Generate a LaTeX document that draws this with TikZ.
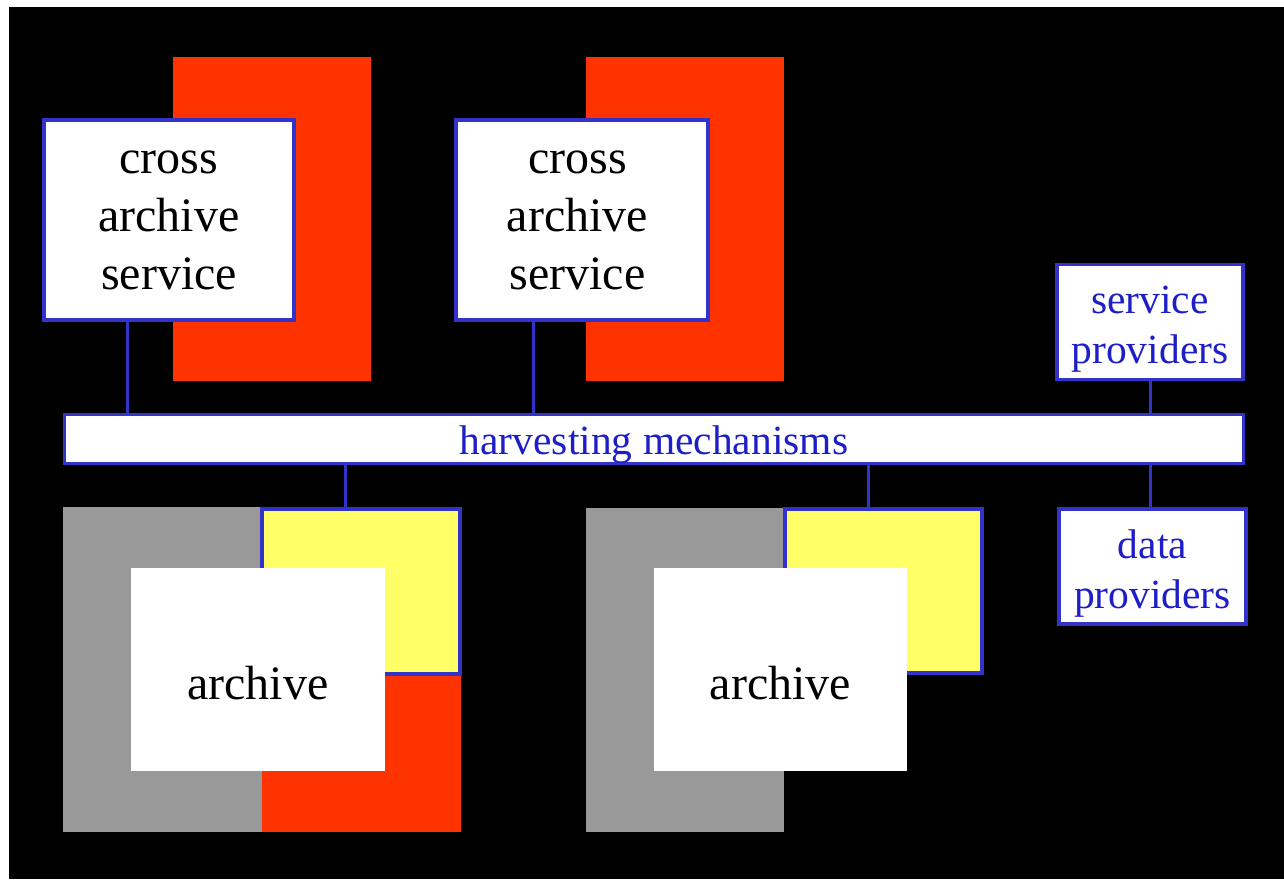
\documentclass[tikz,border=0pt]{standalone}
\usepackage{fontspec}
\setmainfont{Liberation Serif}
\definecolor{bblue}{RGB}{51,51,204}
\definecolor{tblue}{RGB}{30,30,200}
\definecolor{hred}{RGB}{255,51,0}
\definecolor{hyellow}{RGB}{255,255,102}
\definecolor{hgray}{RGB}{153,153,153}
\tikzset{
  whitebox/.style={draw=bblue, line width=3.5pt, fill=white, inner sep=0pt, align=center},
  bigtext/.style={font=\fontsize{48}{58}\selectfont, text=black},
  bluetext/.style={font=\fontsize{41.5}{50}\selectfont, text=tblue},
  conn/.style={draw=bblue, line width=3pt},
  plain/.style={inner sep=0pt, draw=none},
  yellowbox/.style={draw=bblue, line width=3.5pt, fill=hyellow, inner sep=0pt},
}
\begin{document}
\begin{tikzpicture}[x=1pt,y=-1pt]
\useasboundingbox (0,0) rectangle (1284,879);
\fill[white] (0,0) rectangle (1284,879);
\fill[black] (9,7) rectangle (1284,879);

% top red backdrops
\node[plain, fill=hred, minimum width=198, minimum height=324] (r1) at (272,219) {};
\node[plain, fill=hred, minimum width=198, minimum height=324] (r2) at (685,219) {};

% bottom backdrops
\node[plain, fill=hgray, minimum width=199, minimum height=325] (g1) at (162.5,669.5) {};
\node[plain, fill=hred, minimum width=199, minimum height=325] (rb1) at (361.5,669.5) {};
\node[plain, fill=hgray, minimum width=198, minimum height=324] (g2) at (685,670) {};

% yellow boxes
\node[yellowbox, minimum width=198, minimum height=165] (y1) at (361,591.5) {};
\node[yellowbox, minimum width=197, minimum height=164] (y2) at (883.5,591) {};

% archive boxes
\node[plain, fill=white, minimum width=254, minimum height=203, bigtext] (a1) at (258,669.5) {\rule{0pt}{60pt}archive};
\node[plain, fill=white, minimum width=253, minimum height=203, bigtext] (a2) at (780.5,669.5) {\rule{0pt}{60pt}archive};

% cross archive services
\node[whitebox, bigtext, minimum width=250, minimum height=200] (c1) at (169,220) {cross\\archive\\service};
\node[whitebox, bigtext, minimum width=252, minimum height=200] (c2) at (582,220) {cross\kern9pt\\archive\kern9pt\\service\kern9pt};

% harvesting bar
\node[whitebox, bluetext, minimum width=1179, minimum height=49] (bar) at (654,439) {\rule{0pt}{40pt}harvesting mechanisms};

% providers
\node[whitebox, bluetext, minimum width=186, minimum height=115] (sp) at (1150,322) {\rule{0pt}{41pt}service\\providers};
\node[whitebox, bluetext, minimum width=187, minimum height=115] (dp) at (1152.5,566.5) {\rule{0pt}{43pt}data\\providers};

% connector x positions
\coordinate (k1) at (127,0);
\coordinate (k2) at (533,0);
\coordinate (k3) at (345,0);
\coordinate (k4) at (868,0);
\coordinate (k5) at (1150,0);

\draw[conn] (k1 |- c1.south) -- (k1 |- bar.north);
\draw[conn] (k2 |- c2.south) -- (k2 |- bar.north);
\draw[conn] (k3 |- bar.south) -- (k3 |- y1.north);
\draw[conn] (k4 |- bar.south) -- (k4 |- y2.north);
\draw[conn] (k5 |- sp.south) -- (k5 |- bar.north);
\draw[conn] (k5 |- bar.south) -- (k5 |- dp.north);
\end{tikzpicture}
\end{document}
